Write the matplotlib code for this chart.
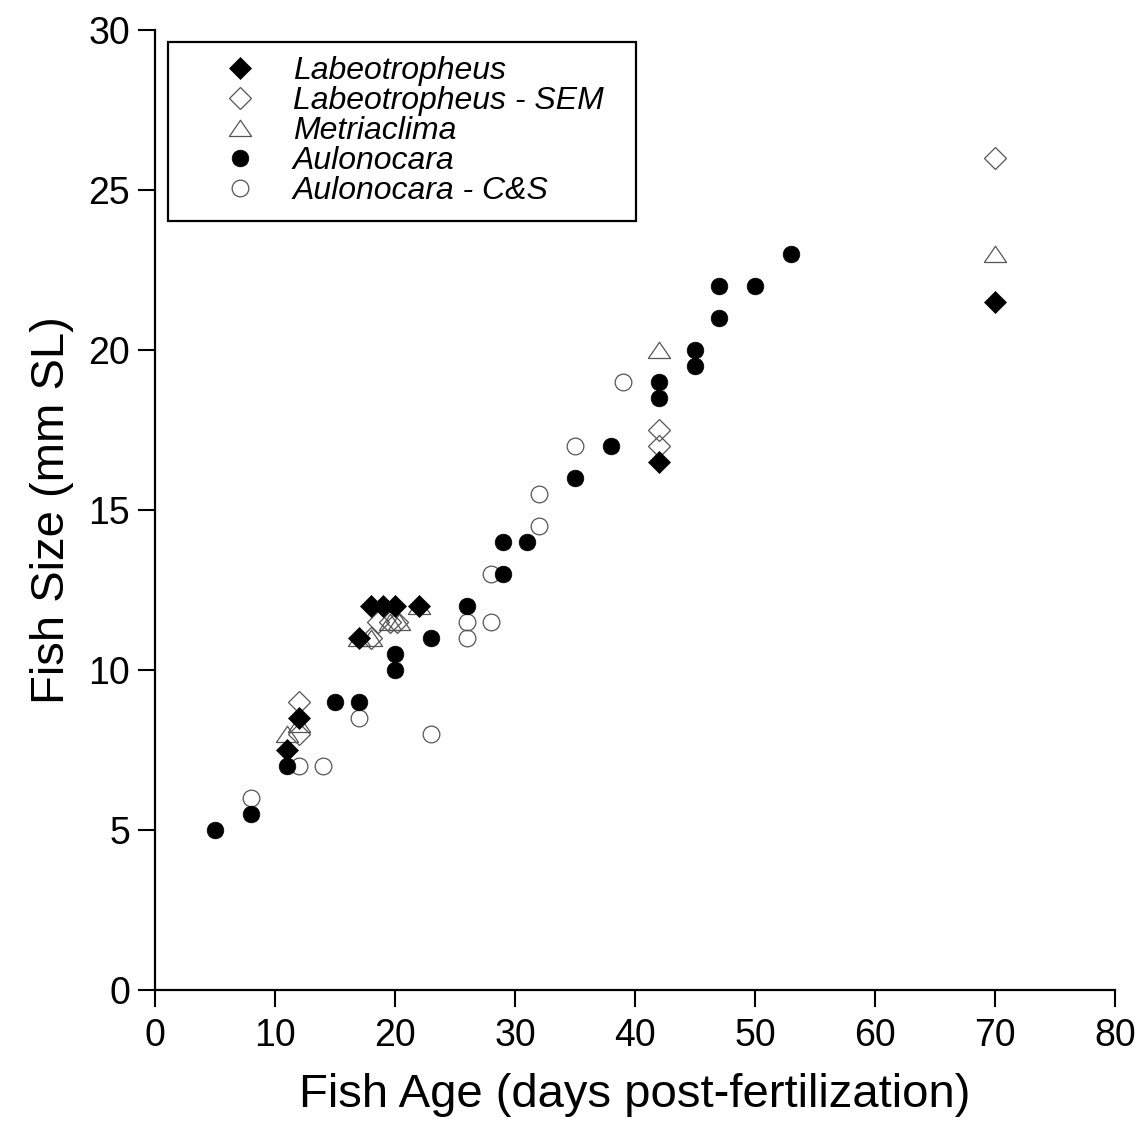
import matplotlib
matplotlib.use("Agg")
import matplotlib.pyplot as plt
from matplotlib.path import Path

plt.rcParams['font.family'] = ['Liberation Sans', 'DejaVu Sans']

# Data (age in days post-fertilization, size in mm SL)
labeo_x = [11, 12, 17, 18, 19, 20, 22, 42, 70]
labeo_y = [7.5, 8.5, 11, 12, 12, 12, 12, 16.5, 21.5]

labeo_sem_x = [12, 12, 18, 18.6, 19.6, 20.2, 42, 42, 70]
labeo_sem_y = [9, 8, 11, 11.5, 11.5, 11.5, 17, 17.5, 26]

metri_x = [11, 12, 17, 18, 19.6, 20.3, 22, 42, 70]
metri_y = [8, 8.3, 11, 11, 11.5, 11.5, 12, 20, 23]

aulo_x = [5, 8, 11, 15, 17, 20, 20, 23, 26, 29, 29, 31, 35, 38, 42, 42, 45, 45, 47, 47, 50, 53]
aulo_y = [5, 5.5, 7, 9, 9, 10.5, 10, 11, 12, 14, 13, 14, 16, 17, 19, 18.5, 20, 19.5, 22, 21, 22, 23]

aulo_cs_x = [8, 12, 14, 17, 23, 26, 26, 28, 28, 32, 32, 35, 39]
aulo_cs_y = [6, 7, 7, 8.5, 8, 11, 11.5, 11.5, 13, 14.5, 15.5, 17, 19]

labels = ["Labeotropheus", "Labeotropheus - SEM", "Metriaclima",
          "Aulonocara", "Aulonocara - C&S"]

x_ticks = [0, 10, 20, 30, 40, 50, 60, 70, 80]
y_ticks = [0, 5, 10, 15, 20, 25, 30]

tri = Path([(-1, -0.72), (1, -0.72), (0, 0.74), (-1, -0.72)],
           [Path.MOVETO, Path.LINETO, Path.LINETO, Path.CLOSEPOLY])

fig = plt.figure(figsize=(11.38, 11.45), dpi=100)
ax = fig.add_axes([155/1138, 1 - 990/1145, 960/1138, 960/1145])

open_col = '#555555'
h5, = ax.plot(aulo_cs_x, aulo_cs_y, 'o', ms=12, mfc='none', mec=open_col, mew=0.9,
              ls='none', zorder=2)
h4, = ax.plot(aulo_x, aulo_y, 'o', ms=12, mfc='black', mec='black', mew=0.5,
              ls='none', zorder=3)
h3, = ax.plot(metri_x, metri_y, marker=tri, ms=16, mfc='none', mec=open_col, mew=0.9,
              ls='none', zorder=4)
h2, = ax.plot(labeo_sem_x, labeo_sem_y, 'D', ms=11, mfc='none', mec=open_col, mew=0.9,
              ls='none', zorder=5)
h1, = ax.plot(labeo_x, labeo_y, 'D', ms=11, mfc='black', mec='black', mew=0.5,
              ls='none', zorder=6)

ax.set_xlim(0, 80)
ax.set_ylim(0, 30)
ax.set_xticks(x_ticks)
ax.set_yticks(y_ticks)
ax.tick_params(axis='both', direction='out', length=12, width=1.5, labelsize=27,
               color='black')
ax.tick_params(axis='x', pad=8)
ax.tick_params(axis='y', pad=6)
for s in ['top', 'right']:
    ax.spines[s].set_visible(False)
for s in ['left', 'bottom']:
    ax.spines[s].set_linewidth(1.6)

ax.set_xlabel("Fish Age (days post-fertilization)", fontsize=34, labelpad=14)
ax.set_ylabel("Fish Size (mm SL)", fontsize=34, labelpad=10)

leg = ax.legend([h1, h2, h3, h4, h5], labels, loc='upper left',
                bbox_to_anchor=(13/960, 1 - 12/960 - 0.1, 468/960, 0.1), mode='expand',
                fancybox=False,
                frameon=True, edgecolor='black', framealpha=1,
                prop={'style': 'italic', 'size': 23}, markerscale=1.0,
                labelspacing=0.0, handlelength=3.6, handletextpad=-0.15,
                borderpad=0.45, borderaxespad=0, numpoints=1)
leg.get_frame().set_linewidth(1.6)

fig.savefig("out.png", dpi=100)
